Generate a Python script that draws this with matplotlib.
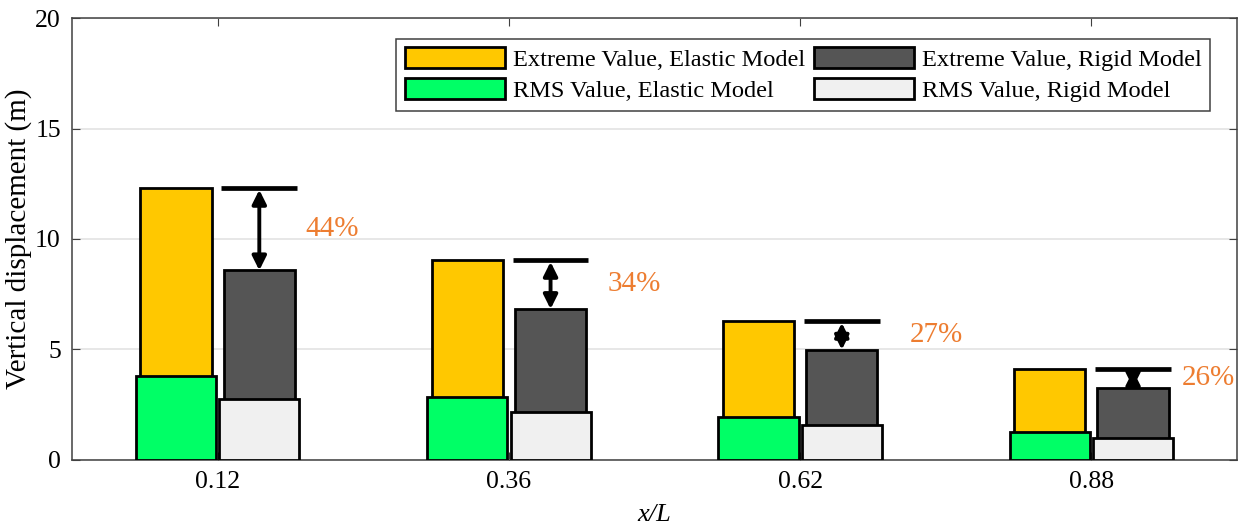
import matplotlib

matplotlib.use("Agg")

import matplotlib.pyplot as plt
from matplotlib.patches import Patch
import numpy as np

# values
positions_label = ["0.12", "0.36", "0.62", "0.88"]
extreme_elastic = [12.32, 9.06, 6.30, 4.14]
extreme_rigid = [8.58, 6.83, 4.99, 3.28]
rms_elastic = [3.81, 2.86, 1.95, 1.26]
rms_rigid = [2.75, 2.18, 1.59, 1.01]
reduction_labels = ["44%", "34%", "27%", "26%"]
label_dx = [0.30, 0.34, 0.375, 0.31]

YELLOW = "#FFC800"
GREEN = "#00FF66"
DARK = "#555555"
LIGHT = "#F0F0F0"
ORANGE = "#ED7D31"
SERIF = ["Liberation Serif", "DejaVu Serif"]

plt.rcParams["font.family"] = SERIF

fig = plt.figure(figsize=(12.44, 5.28), dpi=100)
ax = fig.add_axes([0.0579, 0.1288, 0.9365, 0.8371])

x = np.arange(1, len(positions_label) + 1)
offset = 0.143

# extreme bars underneath, RMS bars drawn over their lower part
ax.bar(x - offset, extreme_elastic, width=0.245, color=YELLOW, edgecolor="black", linewidth=2, zorder=3)
ax.bar(x + offset, extreme_rigid, width=0.245, color=DARK, edgecolor="black", linewidth=2, zorder=3)
ax.bar(x - offset, rms_elastic, width=0.275, color=GREEN, edgecolor="black", linewidth=2, zorder=4)
ax.bar(x + offset, rms_rigid, width=0.275, color=LIGHT, edgecolor="black", linewidth=2, zorder=4)

for xi, top, low, txt, dx in zip(x, extreme_elastic, extreme_rigid, reduction_labels, label_dx):
    xc = xi + offset
    ax.hlines(top, xc - 0.13, xc + 0.13, color="black", linewidth=3.4, zorder=5)
    ax.annotate(
        "",
        xy=(xc, low),
        xytext=(xc, top),
        arrowprops=dict(arrowstyle="<|-|>", color="black", lw=2.8, mutation_scale=21, shrinkA=1.5, shrinkB=0),
        zorder=5,
    )
    ax.text(xi + dx, (top + low) / 2, txt, color=ORANGE, fontsize=21, ha="left", va="center", zorder=5)

ax.set_xlim(0.5, 4.5)
ax.set_ylim(0, 20)
ax.set_yticks([0, 5, 10, 15, 20])
ax.set_xticks(x)
ax.set_xticklabels(positions_label)
ax.tick_params(axis="both", direction="in", top=True, right=True, labelsize=18.5, length=6, color="#404040", pad=8)
ax.yaxis.grid(True, color="#E3E3E3", linewidth=1.2, zorder=0)
ax.set_axisbelow(True)
for spine in ax.spines.values():
    spine.set_color("#404040")
    spine.set_linewidth(1.1)

ax.set_ylabel("Vertical displacement (m)", fontsize=21, labelpad=2)
ax.set_xlabel("x/L", fontsize=19, fontstyle="italic", labelpad=8)

handles = [
    Patch(facecolor=YELLOW, edgecolor="black", linewidth=2, label="Extreme Value, Elastic Model"),
    Patch(facecolor=GREEN, edgecolor="black", linewidth=2, label="RMS Value, Elastic Model"),
    Patch(facecolor=DARK, edgecolor="black", linewidth=2, label="Extreme Value, Rigid Model"),
    Patch(facecolor=LIGHT, edgecolor="black", linewidth=2, label="RMS Value, Rigid Model"),
]
leg = ax.legend(
    handles=handles,
    ncol=2,
    loc="upper right",
    bbox_to_anchor=(0.977, 0.953),
    borderaxespad=0,
    fontsize=17.6,
    handlelength=4.1,
    handleheight=0.92,
    handletextpad=0.33,
    columnspacing=0.35,
    labelspacing=0.3,
    borderpad=0.35,
    fancybox=False,
    framealpha=1,
)
leg.get_frame().set_edgecolor("#404040")
leg.get_frame().set_linewidth(1.1)

fig.savefig("out.png", dpi=100)
